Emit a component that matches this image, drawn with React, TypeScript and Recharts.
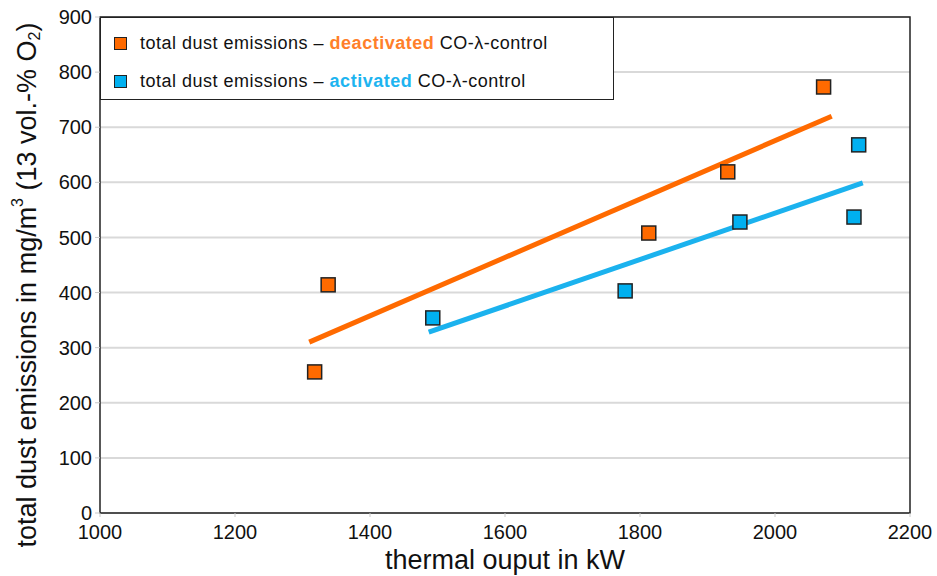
import {
  ComposedChart,
  Scatter,
  XAxis,
  YAxis,
  CartesianGrid,
  ReferenceArea,
  Label,
} from "recharts";

const xTicks = [1000, 1200, 1400, 1600, 1800, 2000, 2200];
const yTicks = [0, 100, 200, 300, 400, 500, 600, 700, 800, 900];

// measured points (thermal output kW, dust mg/m3)
const deactivatedPoints = [
  { x: 1318, y: 256 },
  { x: 1338, y: 414 },
  { x: 1813, y: 508 },
  { x: 1930, y: 619 },
  { x: 2072, y: 773 },
];
const activatedPoints = [
  { x: 1493, y: 354 },
  { x: 1778, y: 403 },
  { x: 1948, y: 528 },
  { x: 2117, y: 537 },
  { x: 2124, y: 668 },
];

// linear trend lines (start / end)
const deactivatedTrend = [
  { x: 1310, y: 310 },
  { x: 2084, y: 720 },
];
const activatedTrend = [
  { x: 1487, y: 328 },
  { x: 2130, y: 599 },
];

const ORANGE = "#FF6A00";
const BLUE = "#00B0F0";
const FONT = "'Liberation Sans', Arial, sans-serif";

const Square = (props: any) => {
  const { cx, cy, fill } = props;
  return (
    <rect
      x={cx - 7}
      y={cy - 7}
      width={14}
      height={14}
      fill={fill}
      stroke="#222"
      strokeWidth={1.5}
    />
  );
};

const NoShape = () => <g />;

const legendRows = [
  { c: ORANGE, word: "deactivated", tc: "#FF7F2A" },
  { c: BLUE, word: "activated", tc: "#1DB4F0" },
];

const LegendBox = () => (
  <div
    style={{
      position: "absolute",
      left: 100,
      top: 17,
      width: 514,
      height: 83,
      background: "#fff",
      border: "1.5px solid #222",
      boxSizing: "border-box",
      fontFamily: FONT,
      fontSize: 18,
      letterSpacing: 0.5,
      color: "#111",
      paddingLeft: 13,
    }}
  >
    {legendRows.map((r, i) => (
      <div
        key={i}
        style={{ display: "flex", alignItems: "center", height: 38, marginTop: i === 0 ? 6 : 0 }}
      >
        <span
          style={{
            display: "inline-block",
            width: 11,
            height: 11,
            background: r.c,
            border: "1.5px solid #222",
            marginRight: 13,
          }}
        />
        <span>
          total dust emissions –{" "}
          <b style={{ color: r.tc }}>{r.word}</b> CO-λ-control
        </span>
      </div>
    ))}
  </div>
);

const YTitle = () => {
  const cx = 27;
  const cy = 285;
  return (
    <text
      x={cx}
      y={cy}
      transform={`rotate(-90 ${cx} ${cy})`}
      textAnchor="middle"
      dominantBaseline="central"
      fontFamily={FONT}
      fontSize={27}
      fill="#111"
    >
      total dust emissions in mg/m
      <tspan fontSize={16} dy={-10}>3</tspan>
      <tspan dy={10}> (13 vol.-% O</tspan>
      <tspan fontSize={16} dy={7}>2</tspan>
      <tspan dy={-7}>)</tspan>
    </text>
  );
};

export default function App() {
  return (
    <div style={{ position: "absolute", left: 0, top: 0, width: 937, height: 576 }}>
      <ComposedChart
        width={937}
        height={576}
        margin={{ top: 17, right: 27, left: 0, bottom: 0 }}
      >
        <CartesianGrid
          vertical={false}
          stroke="#d9d9d9"
          strokeWidth={2}
        />
        <XAxis
          type="number"
          dataKey="x"
          domain={[1000, 2200]}
          ticks={xTicks}
          height={63}
          axisLine={false}
          tickLine={{ stroke: "#c8c8c8" }}
          tickSize={4}
          tick={{ fontFamily: FONT, fontSize: 20, fill: "#111" }}
          tickMargin={8}
        >
          <Label
            value="thermal ouput in kW"
            position="insideBottom"
            offset={7}
            style={{ fontFamily: FONT, fontSize: 27, fill: "#111" }}
          />
        </XAxis>
        <YAxis
          type="number"
          dataKey="y"
          domain={[0, 900]}
          ticks={yTicks}
          width={100}
          axisLine={false}
          tickLine={{ stroke: "#c8c8c8" }}
          tickSize={5}
          tick={{ fontFamily: FONT, fontSize: 20, fill: "#111" }}
          tickMargin={3}
        >
          <Label content={<YTitle />} />
        </YAxis>
        <ReferenceArea
          x1={1000}
          x2={2200}
          y1={0}
          y2={900}
          fill="none"
          stroke="#222"
          strokeWidth={1.5}
        />
        <Scatter
          data={deactivatedTrend}
          line={{ stroke: ORANGE, strokeWidth: 5 }}
          shape={NoShape}
          isAnimationActive={false}
        />
        <Scatter
          data={activatedTrend}
          line={{ stroke: "#1BB2EE", strokeWidth: 5 }}
          shape={NoShape}
          isAnimationActive={false}
        />
        <Scatter
          data={deactivatedPoints}
          fill={ORANGE}
          shape={Square}
          isAnimationActive={false}
        />
        <Scatter
          data={activatedPoints}
          fill={BLUE}
          shape={Square}
          isAnimationActive={false}
        />
      </ComposedChart>
      <LegendBox />
    </div>
  );
}
